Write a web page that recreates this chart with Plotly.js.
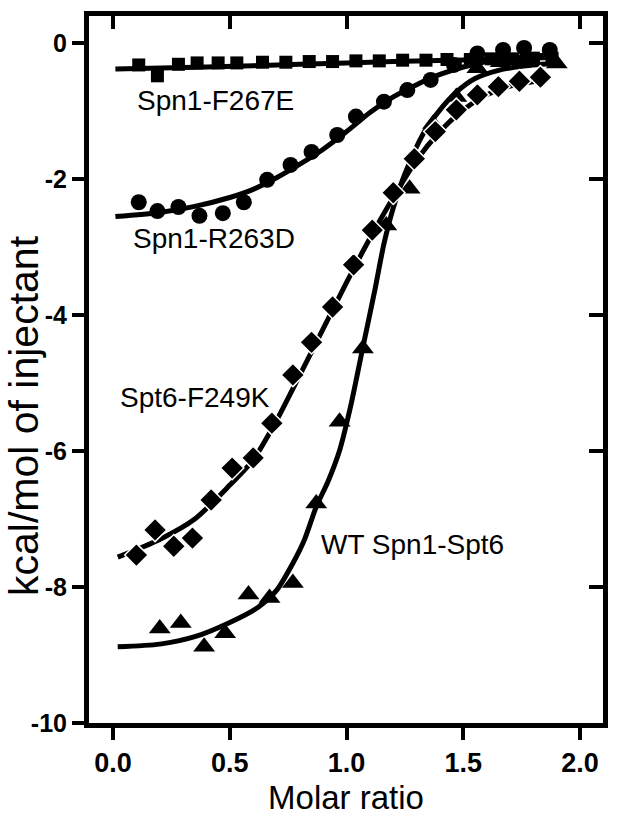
<!DOCTYPE html>
<html>
<head>
<meta charset="utf-8">
<script src="https://cdn.plot.ly/plotly-3.0.1.min.js"></script>
<style>html,body{margin:0;padding:0;background:#fff;}#chart{width:624px;height:820px;}</style>
</head>
<body>
<div id="chart"></div>
<script>
// Spn1-F267E (squares)
var sqX = [0.11, 0.19, 0.28, 0.36, 0.45, 0.53, 0.64, 0.74, 0.84, 0.94, 1.04, 1.14, 1.24, 1.34, 1.43, 1.53, 1.62, 1.71, 1.80, 1.88];
var sqY = [-0.32, -0.48, -0.31, -0.29, -0.29, -0.29, -0.28, -0.28, -0.27, -0.27, -0.26, -0.26, -0.25, -0.25, -0.24, -0.24, -0.23, -0.23, -0.22, -0.22];
var sqFitX = [0.01, 0.4, 0.8, 1.2, 1.6, 1.88];
var sqFitY = [-0.38, -0.35, -0.31, -0.27, -0.24, -0.21];

// Spn1-R263D (circles)
var ciX = [0.11, 0.19, 0.28, 0.37, 0.47, 0.56, 0.66, 0.76, 0.85, 0.96, 1.04, 1.16, 1.26, 1.36, 1.46, 1.56, 1.67, 1.76, 1.87];
var ciY = [-2.34, -2.47, -2.41, -2.54, -2.50, -2.34, -2.01, -1.79, -1.60, -1.35, -1.08, -0.86, -0.69, -0.54, -0.32, -0.15, -0.10, -0.07, -0.10];
var ciFitX = [0.01, 0.2, 0.35, 0.5, 0.6, 0.7, 0.8, 0.9, 1.0, 1.1, 1.2, 1.3, 1.4, 1.5, 1.6, 1.7, 1.88];
var ciFitY = [-2.55, -2.49, -2.40, -2.27, -2.15, -1.98, -1.78, -1.56, -1.30, -1.02, -0.79, -0.61, -0.46, -0.35, -0.27, -0.22, -0.17];

// Spt6-F249K (diamonds)
var diX = [0.10, 0.18, 0.26, 0.34, 0.42, 0.51, 0.60, 0.68, 0.77, 0.85, 0.94, 1.03, 1.11, 1.20, 1.29, 1.38, 1.47, 1.56, 1.65, 1.74, 1.83];
var diY = [-7.53, -7.16, -7.40, -7.28, -6.72, -6.25, -6.10, -5.59, -4.88, -4.40, -3.88, -3.26, -2.75, -2.20, -1.70, -1.30, -0.98, -0.76, -0.64, -0.56, -0.50];
var diFitX = [0.02, 0.2, 0.35, 0.5, 0.6, 0.7, 0.8, 0.9, 1.0, 1.1, 1.2, 1.3, 1.4, 1.5, 1.6, 1.7, 1.86];
var diFitY = [-7.56, -7.30, -7.00, -6.50, -6.13, -5.55, -4.88, -4.20, -3.52, -2.87, -2.27, -1.72, -1.30, -0.98, -0.76, -0.63, -0.53];

// WT Spn1-Spt6 (triangles)
var trX = [0.20, 0.29, 0.39, 0.48, 0.58, 0.67, 0.77, 0.87, 0.97, 1.07, 1.17, 1.27, 1.37, 1.47, 1.56, 1.66, 1.76, 1.90];
var trY = [-8.61, -8.53, -8.88, -8.68, -8.11, -8.16, -7.94, -6.77, -5.57, -4.49, -2.68, -2.14, -1.19, -0.79, -0.37, -0.28, -0.24, -0.30];
var trFitX = [0.02, 0.2, 0.35, 0.5, 0.62, 0.7, 0.77, 0.82, 0.87, 0.92, 0.97, 1.02, 1.07, 1.12, 1.16, 1.2, 1.25, 1.33, 1.4, 1.47, 1.55, 1.65, 1.75, 1.88];
var trFitY = [-8.88, -8.84, -8.73, -8.52, -8.30, -8.05, -7.65, -7.30, -6.82, -6.45, -5.99, -5.30, -4.47, -3.65, -2.95, -2.42, -1.92, -1.32, -0.98, -0.72, -0.52, -0.40, -0.34, -0.30];

// labels
var seriesNames = ["Spn1-F267E", "Spn1-R263D", "Spt6-F249K", "WT Spn1-Spt6"];
var labelX = [0.437, 0.433, 0.351, 1.283];
var labelY = [-0.85, -2.88, -5.21, -7.37];

var xTickVals = [0, 0.5, 1.0, 1.5, 2.0];
var xTickText = ["0.0", "0.5", "1.0", "1.5", "2.0"];
var yTickVals = [0, -2, -4, -6, -8, -10];
var yTickText = ["0", "-2", "-4", "-6", "-8", "-10"];

var xTitle = "Molar ratio";
var yTitle = "kcal/mol of injectant";

var FONT = 'Liberation Sans, Arial, sans-serif';
var LW = 5;
function fit(x, y) {
  return {x: x, y: y, mode: 'lines', type: 'scatter', line: {color: '#000', width: LW, shape: 'spline', smoothing: 0.7}, hoverinfo: 'skip', showlegend: false};
}
function pts(x, y, sym, size, outline) {
  return {x: x, y: y, mode: 'markers', type: 'scatter', marker: {symbol: sym, size: size, color: '#000', line: {color: outline ? '#fff' : '#000', width: outline ? 1.5 : 0}}, showlegend: false};
}

var traces = [
  fit(sqFitX, sqFitY), pts(sqX, sqY, 'square', 13, false),
  fit(ciFitX, ciFitY), pts(ciX, ciY, 'circle', 16, false),
  fit(trFitX, trFitY), pts(trX, trY, 'triangle-up', 19, false),
  fit(diFitX, diFitY), pts(diX, diY, 'diamond', 18, true),
  {x: [], y: [], xaxis: 'x2', yaxis: 'y2', type: 'scatter', mode: 'markers', showlegend: false}
];

var annotations = seriesNames.map(function (t, i) {
  return {x: labelX[i], y: labelY[i], xref: 'x', yref: 'y', text: t, showarrow: false,
    font: {family: FONT, size: 28, color: '#000'}, xanchor: 'center', yanchor: 'middle'};
});
annotations.push({x: 24, y: 416, xref: 'paper', yref: 'paper', text: yTitle, showarrow: false, textangle: -90,
  font: {family: FONT, size: 41, color: '#000'}, xanchor: 'center', yanchor: 'middle'});

var XR = [-0.103, 2.098], YR = [-10, 0.4];
var layout = {
  width: 624, height: 820,
  margin: {l: 89, r: 21, t: 16, b: 97, pad: 0},
  paper_bgcolor: '#fff', plot_bgcolor: '#fff',
  showlegend: false,
  xaxis: {range: XR, showgrid: false, zeroline: false, showline: true, linewidth: LW, linecolor: '#000', mirror: true,
    ticks: 'outside', ticklen: 12, tickwidth: 4, tickcolor: '#000', tickvals: xTickVals, ticktext: xTickText,
    tickfont: {family: FONT, size: 27, color: '#000', weight: 'bold'},
    title: {text: xTitle, font: {family: FONT, size: 33, color: '#000'}, standoff: 10}},
  yaxis: {range: YR, showgrid: false, zeroline: false, showline: true, linewidth: LW, linecolor: '#000', mirror: true,
    ticks: 'outside', ticklen: 12, tickwidth: 4, tickcolor: '#000', tickvals: yTickVals, ticktext: yTickText,
    tickfont: {family: FONT, size: 25, color: '#000', weight: 'bold'}},
  xaxis2: {range: XR, overlaying: 'x', side: 'top', anchor: 'y2', showgrid: false, zeroline: false, showline: false,
    ticks: 'inside', ticklen: 13, tickwidth: 4, tickcolor: '#000', tickvals: xTickVals, showticklabels: false},
  yaxis2: {range: YR, overlaying: 'y', side: 'right', anchor: 'x2', showgrid: false, zeroline: false, showline: false,
    ticks: 'inside', ticklen: 14, tickwidth: 4, tickcolor: '#000', tickvals: yTickVals, showticklabels: false},
  annotations: annotations
};
// paper coords for the y title: convert pixel position to paper fraction
var plotW = 624 - 89 - 21, plotH = 820 - 16 - 97;
var yt = annotations[annotations.length - 1];
yt.x = (24 - 89) / plotW;
yt.y = (820 - 97 - 416) / plotH;

Plotly.newPlot('chart', traces, layout, {displayModeBar: false, staticPlot: true});
</script>
</body>
</html>
